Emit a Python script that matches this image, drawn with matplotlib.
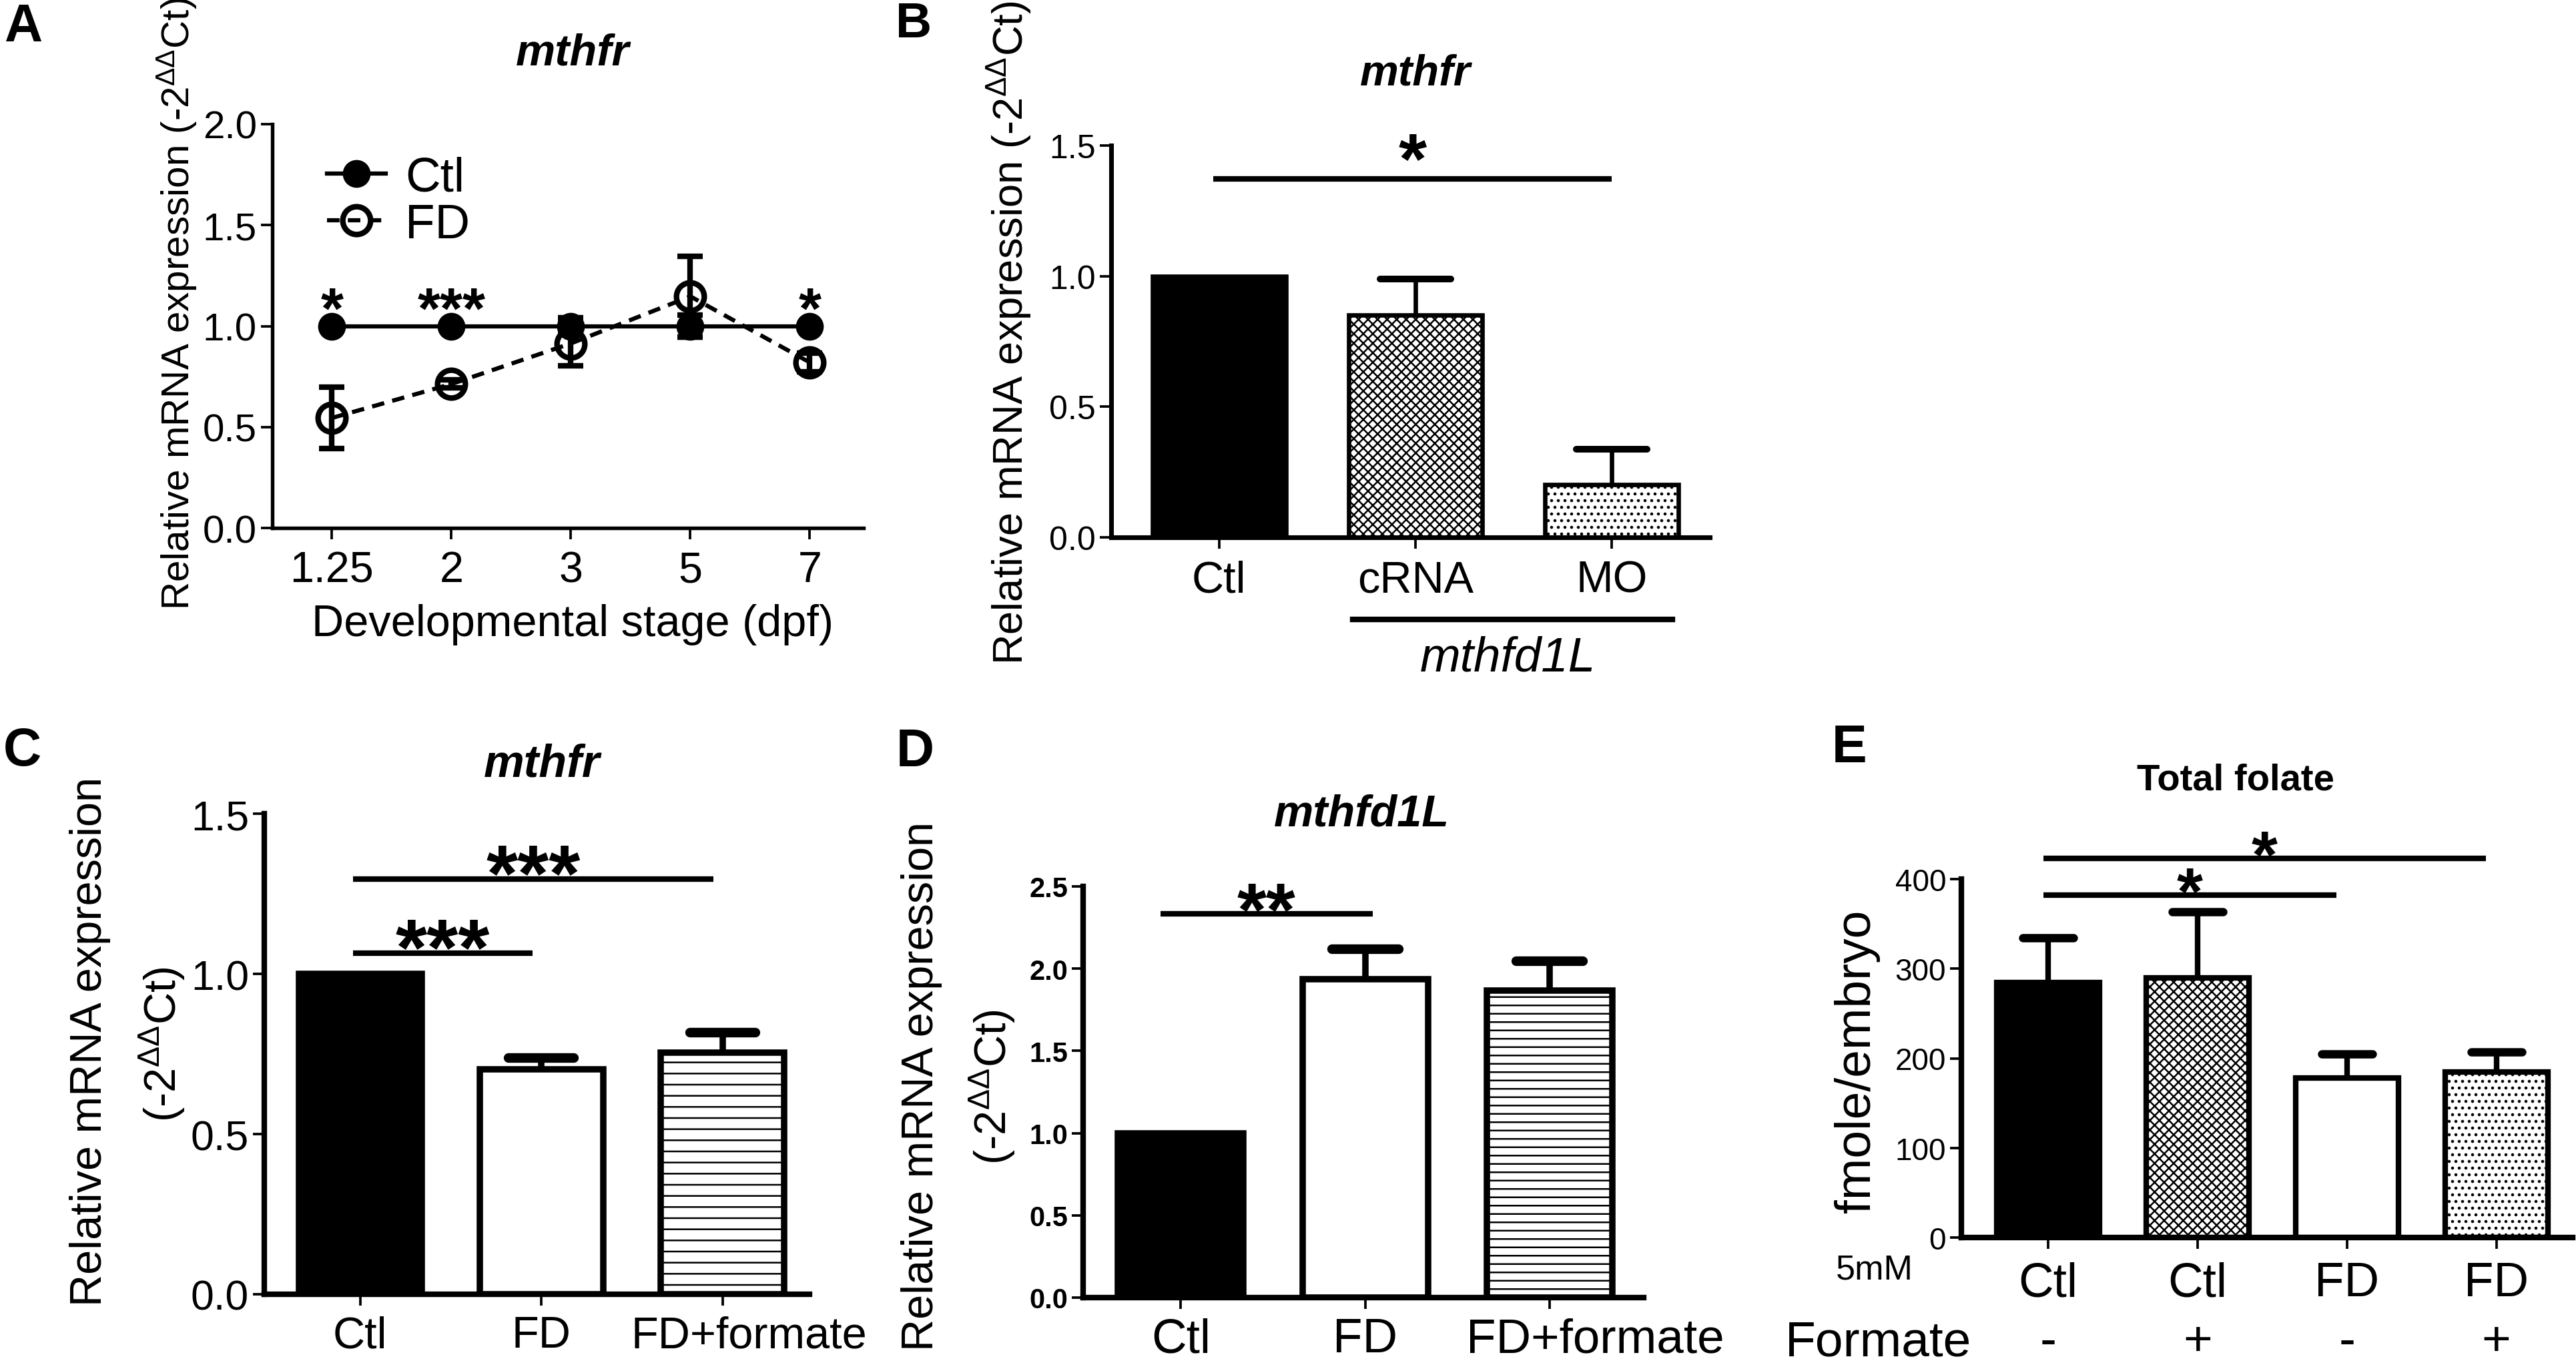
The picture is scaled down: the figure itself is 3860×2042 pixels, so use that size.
import numpy as np
import matplotlib
matplotlib.use('Agg')
import matplotlib.pyplot as plt
from matplotlib.lines import Line2D
from matplotlib.transforms import blended_transform_factory, ScaledTranslation

W, H = 3861, 2043
DPI = 300

plt.rcParams['font.family'] = ['Liberation Sans', 'DejaVu Sans']
plt.rcParams['mathtext.fontset'] = 'custom'
plt.rcParams['mathtext.rm'] = 'Liberation Sans'
plt.rcParams['mathtext.it'] = 'Liberation Sans:italic'
plt.rcParams['mathtext.bf'] = 'Liberation Sans:bold'
plt.rcParams['hatch.linewidth'] = 0.6

# ---- data ----
# A: mthfr over development
stages = ['1.25', '2', '3', '5', '7']
ctl_a = [1.0, 1.0, 1.0, 1.0, 1.0]
ctl_a_err = [0.0, 0.0, 0.04, 0.055, 0.0]
fd_a = [0.545, 0.713, 0.914, 1.147, 0.82]
fd_a_err = [0.152, 0.02, 0.11, 0.2, 0.045]
stars_a = ['*', '***', '', '', '*']

# B: mthfr after mthfd1L knockdown
groups_b = ['Ctl', 'cRNA', 'MO']
vals_b = [1.0, 0.85, 0.203]
err_b = [0.0, 0.14, 0.134]
sig_b = [(0, 2, 1.371, '*')]

# C: mthfr, folate deficiency
groups_c = ['Ctl', 'FD', 'FD+formate']
vals_c = [1.0, 0.703, 0.754]
err_c = [0.0, 0.035, 0.063]
sig_c = [(0, 1, 1.064, '***'), (0, 2, 1.296, '***')]

# D: mthfd1L, folate deficiency
groups_d = ['Ctl', 'FD', 'FD+formate']
vals_d = [1.0, 1.934, 1.868]
err_d = [0.0, 0.186, 0.179]
sig_d = [(0, 1, 2.333, '**')]

# E: total folate
groups_e = ['Ctl', 'Ctl', 'FD', 'FD']
formate_e = ['-', '+', '-', '+']
vals_e = [284.6, 289.6, 177.8, 185.0]
err_e = [50.0, 74.0, 27.0, 22.0]
sig_e = [(0, 2, 382, '*'), (0, 3, 423, '*')]

fig = plt.figure(figsize=(W / DPI, H / DPI), dpi=DPI)


def add_axes(l, t, r, b):
    return fig.add_axes([l / W, 1 - b / H, (r - l) / W, (b - t) / H])


def ftext(x, y, s, **kw):
    kw.setdefault('ha', 'center')
    kw.setdefault('va', 'center')
    return fig.text(x / W, 1 - y / H, s, **kw)


def style(ax, lw, yfs, xfs, ybold=False, xpad=4):
    for s in ['top', 'right']:
        ax.spines[s].set_visible(False)
    for s in ['left', 'bottom']:
        ax.spines[s].set_linewidth(lw)
    ax.tick_params(axis='both', direction='out', width=0.9, length=4, colors='k')
    ax.tick_params(axis='y', labelsize=yfs, pad=1.5)
    ax.tick_params(axis='x', labelsize=xfs, pad=xpad)
    if ybold:
        for t in ax.get_yticklabels():
            t.set_fontweight('bold')


def shift_last_xlabel(ax, dx_px):
    # the long last label sits a little right of its tick, as in the source
    lab = ax.get_xticklabels()[-1]
    lab.set_transform(lab.get_transform() + ScaledTranslation(dx_px / DPI, 0, fig.dpi_scale_trans))


def bars(ax, vals, errs, looks, lw=2.0, width=0.68, capw=0.36):
    x = np.arange(len(vals))
    for xi, v, (fc, hatch) in zip(x, vals, looks):
        ax.bar(xi, v, width=width, facecolor=fc, edgecolor='k', hatch=hatch,
               linewidth=lw, zorder=2)
    for xi, v, e in zip(x, vals, errs):
        if e > 0:
            ax.vlines(xi, v, v + e, colors='k', linewidth=lw, zorder=1)
            ax.hlines(v + e, xi - capw / 2, xi + capw / 2, colors='k',
                      linewidth=lw * 1.5, capstyle='round', zorder=1)


def star(ax, x, y, label, fs):
    ax.annotate(label, xy=(x, y), xytext=(0, -0.575 * fs), textcoords='offset points',
                ha='center', va='baseline', fontsize=fs, fontweight='bold',
                annotation_clip=False)


def sig(ax, comps, fs, star_gap, lw=2.0, left=-0.03, right=-0.03):
    for i, j, y, label in comps:
        x0, x1 = i + left, j + right
        ax.plot([x0, x1], [y, y], color='k', lw=lw, clip_on=False,
                solid_capstyle='butt')
        star(ax, (x0 + x1) / 2, y + star_gap, label, fs)


SOLID = ('k', None)
OPEN = ('w', None)
CHECK = ('w', 'xxxxxxx')
DOTS = ('w', '.....')

ylab = r'Relative mRNA expression (-2$^{\Delta\Delta}$Ct)'

# ---------------- A ----------------
ax_a = add_axes(408, 187, 1294, 792)
xa = np.arange(len(stages))
ax_a.errorbar(xa, ctl_a, yerr=ctl_a_err, fmt='-o', color='k', lw=1.5, ms=9,
              capsize=4.5, capthick=2, elinewidth=2, zorder=3)
ax_a.errorbar(xa, fd_a, yerr=fd_a_err, fmt='o', ls=(0, (3, 2)), color='k', lw=1.5,
              ms=10, mfc='none', mec='k', mew=2, capsize=4.5, capthick=2,
              elinewidth=2, zorder=4)
for i, s in enumerate(stars_a):
    if s:
        star(ax_a, i, 1.16, s, 21)
ax_a.set_xlim(-0.5, 4.45)
ax_a.set_ylim(0, 2.0)
ax_a.set_xticks(xa)
ax_a.set_xticklabels(stages)
ax_a.set_yticks(np.arange(0, 2.01, 0.5))
ax_a.set_yticklabels(['%.1f' % v for v in np.arange(0, 2.01, 0.5)])
style(ax_a, 1.3, 14, 15.5)
handles = [Line2D([], [], color='k', lw=1.5, marker='o', ms=9),
           Line2D([], [], color='k', lw=1.5, ls=(0, (3, 2)), marker='o', ms=10,
                  mfc='none', mew=2)]
ax_a.legend(handles, ['Ctl', 'FD'], loc='upper left', bbox_to_anchor=(0.06, 0.97),
            frameon=False, fontsize=17.5, handlelength=1.2, handletextpad=0.4,
            labelspacing=0.05, borderaxespad=0)
ftext(858, 80, 'mthfr', fontsize=16, fontweight='bold', style='italic')
ftext(858, 936, 'Developmental stage (dpf)', fontsize=16)
ftext(265, 455, ylab, fontsize=14, rotation=90)
ftext(35, 42, 'A', fontsize=19, fontweight='bold')

# ---------------- B ----------------
ax_b = add_axes(1665, 219, 2562, 806)
bars(ax_b, vals_b, err_b, [SOLID, CHECK, DOTS], lw=1.6)
sig(ax_b, sig_b, 26, 0.146, lw=2.0, left=-0.03, right=0.0)
ax_b.set_xlim(-0.55, 2.5)
ax_b.set_ylim(0, 1.5)
ax_b.set_xticks(np.arange(len(groups_b)))
ax_b.set_xticklabels(groups_b)
ax_b.set_yticks(np.arange(0, 1.51, 0.5))
ax_b.set_yticklabels(['%.1f' % v for v in np.arange(0, 1.51, 0.5)])
style(ax_b, 1.7, 12, 16)
trb = ax_b.get_xaxis_transform()
ax_b.plot([0.68, 2.31], [-0.2095, -0.2095], color='k', lw=2.0, transform=trb,
          clip_on=False)
ax_b.text(1.47, -0.307, 'mthfd1L', transform=trb, ha='center', va='center',
          fontsize=17.5, style='italic')
ftext(2121, 111, 'mthfr', fontsize=15.6, fontweight='bold', style='italic')
ftext(1512, 499, ylab, fontsize=15.2, rotation=90)
ftext(1369, 36, 'B', fontsize=18, fontweight='bold')

# ---------------- C ----------------
ax_c = add_axes(396, 1220, 1213, 1940)
bars(ax_c, vals_c, err_c, [SOLID, OPEN, ('w', '---')], lw=2.3)
sig(ax_c, sig_c, 29, 0.08, lw=2.0, left=-0.04, right=-0.05)
ax_c.set_xlim(-0.53, 2.48)
ax_c.set_ylim(0, 1.5)
ax_c.set_xticks(np.arange(len(groups_c)))
ax_c.set_xticklabels(groups_c)
ax_c.set_yticks(np.arange(0, 1.51, 0.5))
ax_c.set_yticklabels(['%.1f' % v for v in np.arange(0, 1.51, 0.5)])
style(ax_c, 2.0, 15, 16, xpad=3.5)
shift_last_xlabel(ax_c, 40)
ftext(812, 1145, 'mthfr', fontsize=16.4, fontweight='bold', style='italic')
ftext(135, 1560, 'Relative mRNA expression', fontsize=16, rotation=90)
ftext(243, 1565, r'(-2$^{\Delta\Delta}$Ct)', fontsize=16, rotation=90)
ftext(33, 1126, 'C', fontsize=19, fontweight='bold')

# ---------------- D ----------------
ax_d = add_axes(1623, 1329, 2463, 1945)
bars(ax_d, vals_d, err_d, [SOLID, OPEN, ('w', '----')], lw=2.3)
sig(ax_d, sig_d, 27, 0.135, lw=2.0, left=-0.11, right=0.04)
ax_d.set_xlim(-0.53, 2.51)
ax_d.set_ylim(0, 2.5)
ax_d.set_xticks(np.arange(len(groups_d)))
ax_d.set_xticklabels(groups_d)
ax_d.set_yticks(np.arange(0, 2.51, 0.5))
ax_d.set_yticklabels(['%.1f' % v for v in np.arange(0, 2.51, 0.5)])
style(ax_d, 2.0, 10, 17.5, ybold=True, xpad=3)
shift_last_xlabel(ax_d, 68)
ftext(2040, 1221, 'mthfd1L', fontsize=16, fontweight='bold', style='italic')
ftext(1381, 1627, 'Relative mRNA expression', fontsize=16, rotation=90)
ftext(1487, 1629, r'(-2$^{\Delta\Delta}$Ct)', fontsize=16, rotation=90)
ftext(1371, 1127, 'D', fontsize=19, fontweight='bold')

# ---------------- E ----------------
ax_e = add_axes(2939, 1318, 3855, 1855)
bars(ax_e, vals_e, err_e, [SOLID, CHECK, OPEN, DOTS], lw=2.0, width=0.69, capw=0.34)
sig(ax_e, sig_e, 24, 22, lw=2.0, left=-0.03, right=-0.07)
ax_e.set_xlim(-0.58, 3.51)
ax_e.set_ylim(0, 400)
ax_e.set_xticks(np.arange(len(groups_e)))
ax_e.set_xticklabels(groups_e)
ax_e.set_yticks(np.arange(0, 401, 100))
style(ax_e, 2.0, 11, 17.5, xpad=4.5)
tre = blended_transform_factory(ax_e.transData, fig.transFigure)
for i, f in enumerate(formate_e):
    ax_e.text(i, 1 - 2012 / H, f, transform=tre, ha='center', va='center',
              fontsize=18)
ftext(2809, 1903, '5mM', fontsize=12.5)
ftext(2815, 2012, 'Formate', fontsize=18)
ftext(3350, 1170, 'Total folate', fontsize=13.5, fontweight='bold')
ftext(2783, 1590, 'fmole/embryo', fontsize=18, rotation=90)
ftext(2771, 1122, 'E', fontsize=19, fontweight='bold')

fig.savefig('out.png', dpi=DPI)
